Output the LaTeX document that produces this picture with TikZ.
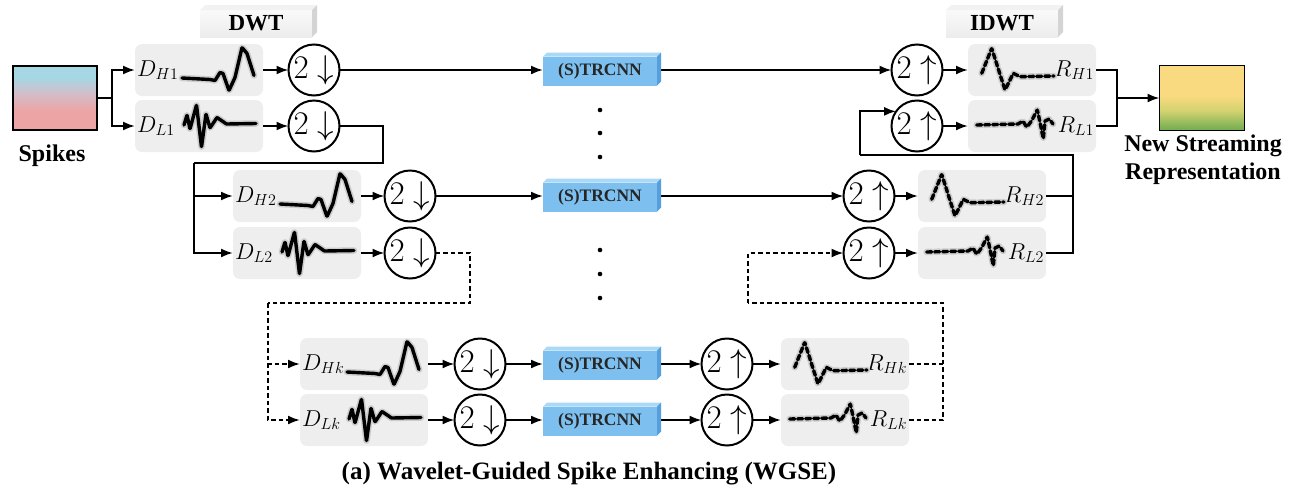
\RequirePackage{fix-cm}
\documentclass[tikz,border=0pt]{standalone}
\usepackage{fontspec}
\setmainfont{Liberation Serif}
\usetikzlibrary{arrows.meta,calc}

\definecolor{netfront}{RGB}{125,192,240}
\definecolor{nettop}{RGB}{170,216,247}
\definecolor{netside}{RGB}{86,158,220}
\definecolor{panel}{RGB}{238,238,238}
\definecolor{tabfront}{RGB}{236,236,236}
\definecolor{tabside}{RGB}{212,212,212}
\definecolor{spkblue}{RGB}{165,215,228}
\definecolor{spkmid}{RGB}{210,190,202}
\definecolor{spkpink}{RGB}{236,164,164}
\definecolor{nsryel}{RGB}{250,218,128}
\definecolor{nsrmid}{RGB}{210,210,112}
\definecolor{nsrgrn}{RGB}{122,176,82}

\pgfdeclareverticalshading{spikeshade}{100bp}{color(0bp)=(spkpink); color(40bp)=(spkpink); color(54bp)=(spkmid); color(66bp)=(spkblue); color(100bp)=(spkblue)}
\pgfdeclareverticalshading{streamshade}{100bp}{color(0bp)=(nsrgrn); color(27bp)=(nsrgrn); color(40bp)=(nsrmid); color(52bp)=(nsryel); color(100bp)=(nsryel)}

% wavelet curves, drawn relative to the west side of a panel
\newcommand\hwave[1]{\draw[#1] (47,8) -- (75,9.5) -- (80,10.5) -- (85,2.5) -- (88,3.5) -- (94,20.5) -- (100,7.5) -- (107,-22.5) -- (112,-16.5) -- (119,5.5);}
\newcommand\lwave[1]{\draw[#1] (49,-1) -- (52,-11) -- (55,3) -- (61.5,-21) -- (66.5,21) -- (71,-12) -- (75,2) -- (82,-8.5) -- (91.5,-2) -- (121,-2.5);}
\newcommand\rhwave[1]{\draw[#1] (13.7,3.3) -- (23.7,-21.7) -- (37,20) -- (45.3,3.3) -- (52,6.7) -- (86,6);}
\newcommand\rlwave[1]{\draw[#1] (8.7,-1) -- (50,-2) -- (55,-5) -- (58.7,1.3) -- (63.7,-5.3) -- (69.3,-16.3) -- (72,-3.7) -- (75.3,13) -- (77,-5) -- (81.3,-7) -- (85,-2);}

% decomposition panel: name, x, y, label, curve
\newcommand\dpanel[5]{%
  \node[panelbox, anchor=west] (#1) at (#2,#3) {};
  \begin{scope}[shift={(#1.west)}]
    \node[mlab, anchor=west] at (2,0) {$#4$};
    #5{wvglow}#5{wv}
  \end{scope}}
% reconstruction panel: name, x, y, label, curve
\newcommand\rpanel[5]{%
  \node[panelbox, anchor=west] (#1) at (#2,#3) {};
  \begin{scope}[shift={(#1.west)}]
    \node[mlab, anchor=east] at (126,0) {$#4$};
    #5{wvglow,wdash}#5{wv,wdash}
  \end{scope}}

\begin{document}
\begin{tikzpicture}[x=1pt,y=-1pt,
  every node/.style={inner sep=0pt, outer sep=0pt},
  ln/.style={line width=2pt},
  ar/.style={line width=2pt,-{Latex[length=12pt,width=9pt]}},
  dl/.style={dash pattern=on 4.5pt off 3pt},
  wdash/.style={dash pattern=on 5pt off 3pt},
  panelbox/.style={fill=panel, rounded corners=7pt, minimum width=128pt, minimum height=52pt},
  mlab/.style={font=\fontsize{23}{23}\selectfont},
  samp/.style={circle, draw, line width=2pt, minimum size=51pt, font=\fontsize{33}{33}\selectfont},
  net/.style={fill=netfront, minimum width=114pt, minimum height=29pt, font=\fontsize{17.5}{17.5}\selectfont\bfseries, text=black!85},
  tabbox/.style={minimum width=112pt, minimum height=27pt, top color=white!98!black, bottom color=tabfront, font=\fontsize{23}{23}\selectfont\bfseries},
  wv/.style={line width=3.4pt, line join=round, line cap=round, rounded corners=0.5pt},
  wvglow/.style={line width=6.5pt, black!20, line join=round, line cap=round, rounded corners=0.5pt},
  bigtext/.style={font=\fontsize{24}{28}\selectfont\bfseries}]

\useasboundingbox (0,0) rectangle (1289,485);

% input and output streams
\node[draw, line width=1.6pt, minimum width=84pt, minimum height=64pt, shading=spikeshade] (spk) at (55,98) {};
\node[bigtext, anchor=base] (spklab) at (52,161) {Spikes};
\node[draw, line width=1.6pt, minimum width=85pt, minimum height=65pt, shading=streamshade] (nsr) at (1202,98) {};
\node[bigtext, align=center, anchor=north] (nsrlab) at (1203,135) {New Streaming\\Representation};

% transform headers
\node[tabbox] (dwt) at (256,23.5) {DWT};
\node[tabbox] (idwt) at (1002,23.5) {IDWT};

% decomposition panels
\dpanel{dh1}{135}{70}{D_{H1}}{\hwave}
\dpanel{dl1}{135}{126}{D_{L1}}{\lwave}
\dpanel{dh2}{233}{196}{D_{H2}}{\hwave}
\dpanel{dl2}{233}{253}{D_{L2}}{\lwave}
\dpanel{dhk}{300}{364}{D_{Hk}}{\hwave}
\dpanel{dlk}{300}{420}{D_{Lk}}{\lwave}

% reconstruction panels
\rpanel{rh1}{968}{70}{R_{H1}}{\rhwave}
\rpanel{rl1}{968}{126}{R_{L1}}{\rlwave}
\rpanel{rh2}{918}{196}{R_{H2}}{\rhwave}
\rpanel{rl2}{918}{253}{R_{L2}}{\rlwave}
\rpanel{rhk}{781}{364}{R_{Hk}}{\rhwave}
\rpanel{rlk}{781}{420}{R_{Lk}}{\rlwave}

% down-sampling
\node[samp] (c1h) at (314,70) {$2\downarrow$};
\node[samp] (c1l) at (314,126) {$2\downarrow$};
\node[samp] (c2h) at (410,196) {$2\downarrow$};
\node[samp] (c2l) at (410,253) {$2\downarrow$};
\node[samp] (ckh) at (480,364) {$2\downarrow$};
\node[samp] (ckl) at (480,420) {$2\downarrow$};

% up-sampling
\node[samp] (u1h) at (917,70) {$2\uparrow$};
\node[samp] (u1l) at (917,126) {$2\uparrow$};
\node[samp] (u2h) at (869,196) {$2\uparrow$};
\node[samp] (u2l) at (869,253) {$2\uparrow$};
\node[samp] (ukh) at (727,364) {$2\uparrow$};
\node[samp] (ukl) at (727,420) {$2\uparrow$};

% networks
\node[net] (s1) at (600,71) {(S)TRCNN};
\node[net] (s2) at (600,197) {(S)TRCNN};
\node[net] (sk1) at (600,365) {(S)TRCNN};
\node[net] (sk2) at (600,421) {(S)TRCNN};

% ellipsis dots
\foreach \yy in {110,133,157,250,274,298} \fill (600,\yy) circle (2.3);

% input split
\coordinate (j0) at (112,98);
\draw[ln] (spk.east) -- (j0);
\draw[ar] (j0) |- (dh1.west);
\draw[ar] (j0) |- (dl1.west);

% level 1
\draw[ar] (dh1.east) -- (c1h.west);
\draw[ar] (dl1.east) -- (c1l.west);
\draw[ar] (c1h.east) -- (c1h.east -| s1.west);
\draw[ar] (u1h.west -| s1.east) -- (u1h.west);
\coordinate (a1) at (383,163);
\coordinate (a2) at (194,163);
\draw[ln] (c1l.east) -| (a1) -- (a2);
\draw[ar] (a2) |- (dh2.west);
\draw[ar] (a2) |- (dl2.west);

% level 2
\draw[ar] (dh2.east) -- (c2h.west);
\draw[ar] (dl2.east) -- (c2l.west);
\draw[ar] (c2h.east) -- (c2h.east -| s2.west);
\draw[ar] (u2h.west -| s2.east) -- (u2h.west);
\coordinate (b1) at (470,303);
\coordinate (b2) at (268,303);
\draw[ln,dl] (c2l.east) -| (b1) -- (b2);
\draw[ar,dl] (b2) |- (dhk.west);
\draw[ar,dl] (b2) |- (dlk.west);

% level k
\draw[ar] (dhk.east) -- (ckh.west);
\draw[ar] (dlk.east) -- (ckl.west);
\draw[ar] (ckh.east) -- (ckh.east -| sk1.west);
\draw[ar] (ckl.east) -- (ckl.east -| sk2.west);
\draw[ar] (ukh.west -| sk1.east) -- (ukh.west);
\draw[ar] (ukl.west -| sk2.east) -- (ukl.west);
\draw[ar] (ukh.east) -- (rhk.west);
\draw[ar] (ukl.east) -- (rlk.west);

% reconstruction feedback, level k to level 2
\coordinate (e1) at (943,303);
\coordinate (e2) at (748,303);
\draw[ln,dl] (rhk.east) -- (rhk.east -| e1);
\draw[ln,dl] (rlk.east) -| (e1) -- (e2);
\draw[ar,dl] (e2) |- (u2l.west);
\draw[ar] (u2h.east) -- (rh2.west);
\draw[ar] (u2l.east) -- (rl2.west);

% reconstruction feedback, level 2 to level 1
\coordinate (f1) at (1073,155);
\coordinate (f2) at (860,155);
\draw[ln] (rh2.east) -- (rh2.east -| f1);
\draw[ln] (rl2.east) -| (f1) -- (f2);
\draw[ar] (f2) |- (u1l.145);
\draw[ar] (u1h.east) -- (rh1.west);
\draw[ar] (u1l.east) -- (rl1.west);

% output merge
\coordinate (g1) at (1117,98);
\draw[ln] (rh1.east) -| (g1);
\draw[ln] (rl1.east) -| (g1);
\draw[ar] (g1) -- (nsr.west);

% box faces
\foreach \n in {s1,s2,sk1,sk2} {
  \fill[nettop] (\n.north west) -- ++(4,-4) -- ($(\n.north east)+(4,-4)$) -- (\n.north east) -- cycle;
  \fill[netside] (\n.north east) -- ++(4,-4) -- ($(\n.south east)+(4,-4)$) -- (\n.south east) -- cycle;
}
\foreach \n in {dwt,idwt} {
  \fill[white!95!black] (\n.north west) -- ++(5,-5) -- ($(\n.north east)+(5,-5)$) -- (\n.north east) -- cycle;
  \fill[tabside] (\n.north east) -- ++(5,-5) -- ($(\n.south east)+(5,-5)$) -- (\n.south east) -- cycle;
}

% caption
\node[bigtext, font=\fontsize{25}{28}\selectfont\bfseries, anchor=base] (title) at (589,479) {(a) Wavelet-Guided Spike Enhancing (WGSE)};
\end{tikzpicture}
\end{document}
